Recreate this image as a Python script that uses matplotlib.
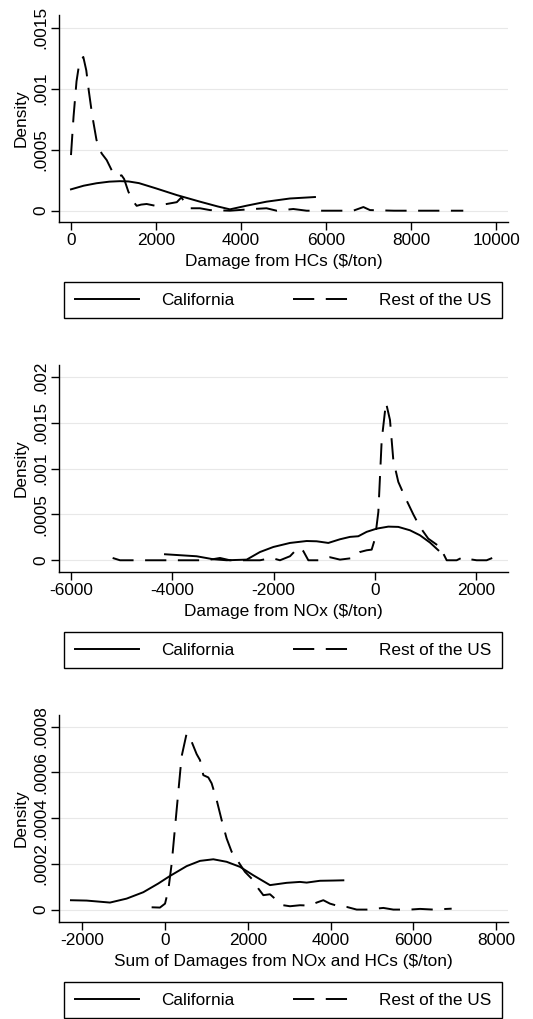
import matplotlib
matplotlib.use('Agg')
import matplotlib.pyplot as plt

# ---- data (x in $/ton, y = density) ----
hc_x_labels = ['0', '2000', '4000', '6000', '8000', '10000']
hc_xticks = [0, 2000, 4000, 6000, 8000, 10000]
hc_yticks = [0, 0.0005, 0.001, 0.0015]
hc_ylabels = ['0', '.0005', '.001', '.0015']
hc_ca_x = [0, 300, 600, 900, 1150, 1350, 1600, 2000, 2490, 3035, 3450, 3740,
           4130, 4600, 5150, 5740]
hc_ca_y = [0.000175, 0.000205, 0.000225, 0.000238, 0.000242, 0.000240, 0.000226,
           0.000183, 0.000128, 0.000074, 0.000035, 0.000011,
           0.000041, 0.000074, 0.000100, 0.000112]
hc_us_x = [0, 60, 130, 200, 290, 360, 420, 500, 600, 720, 840, 960, 1080,
           1190, 1250, 1350, 1470, 1545, 1650, 1780, 1990, 2250, 2490, 2600,
           2700, 2800, 3035, 3270, 3740, 4290, 4600, 4840, 5230, 5545, 6170,
           6640, 6880, 7035, 7600, 8400, 9230]
hc_us_y = [0.000456, 0.00077, 0.00106, 0.00122, 0.00126, 0.00115, 0.00098,
           0.00078, 0.00058, 0.00047, 0.000415, 0.00033, 0.00028,
           0.00029, 0.00026, 0.000156, 0.000074, 0.00004, 0.00005, 0.000055,
           0.00004, 0.000055, 0.00007, 0.00011, 0.00005, 0.00002, 0.00002,
           0.000005, 0.0, 0.000014, 0.00002, 0.0, 0.000014, 0.0, 0.0,
           0.0, 0.00003, 0.000005, 0.0, 0.0, 0.0]

nox_xticks = [-6000, -4000, -2000, 0, 2000]
nox_x_labels = ['-6000', '-4000', '-2000', '0', '2000']
nox_yticks = [0, 0.0005, 0.001, 0.0015, 0.002]
nox_ylabels = ['0', '.0005', '.001', '.0015', '.002']
nox_ca_x = [-4143, -3518, -3189, -2925, -2530, -2267, -2003, -1674, -1345,
            -1148, -917, -687, -489, -325, -160, 37, 268, 465, 696, 892,
            1091, 1256]
nox_ca_y = [0.0000655, 0.0000436, 0.000011, 0.0, 0.000007, 0.00009, 0.000145,
            0.000189, 0.00021, 0.000207, 0.000189, 0.000229, 0.000255,
            0.000262, 0.00031, 0.000345, 0.000367, 0.000364, 0.000327,
            0.000273, 0.000193, 0.000109]
nox_us_x = [-5177, -5032, -4500, -4000, -3320, -3057, -2860, -2500, -2267,
            -2036, -1872, -1674, -1510, -1411, -1312, -1082, -884, -687, -423,
            -292, -160, -61, 5, 71, 137, 222, 301, 367, 465, 597, 762, 892,
            1057, 1222, 1289, 1421, 1618, 1750, 1881, 2013, 2210, 2407]
nox_us_y = [0.000025, 0.0, 0.0, 0.0, 0.0, 0.000025, 0.0, 0.0, 0.0,
            0.000025, 0.0, 0.000044, 0.000138, 0.0001, 0.0, 0.0, 0.000033,
            0.000007, 0.000025, 0.00009, 0.000109, 0.000116, 0.000236,
            0.000527, 0.00131, 0.00172, 0.00153, 0.00109, 0.000855, 0.00069,
            0.0005, 0.000364, 0.000236, 0.000171, 0.000145, 0.0, 0.0,
            0.000036, 0.000011, 0.0, 0.0, 0.000044]

sum_xticks = [-2000, 0, 2000, 4000, 6000, 8000]
sum_x_labels = ['-2000', '0', '2000', '4000', '6000', '8000']
sum_yticks = [0, 0.0002, 0.0004, 0.0006, 0.0008]
sum_ylabels = ['0', '.0002', '.0004', '.0006', '.0008']
sum_ca_x = [-2274, -1895, -1331, -928, -525, -163, 119, 522, 845, 1167, 1489,
            1811, 2134, 2537, 2940, 3262, 3423, 3745, 4068, 4310]
sum_ca_y = [0.0000409, 0.0000394, 0.0000307, 0.000048, 0.000076, 0.000114,
            0.000147, 0.00019, 0.000213, 0.00022, 0.000209, 0.000187,
            0.00015, 0.000107, 0.000117, 0.000121, 0.000118, 0.000126,
            0.000127, 0.000128]
sum_us_x = [-324, -123, 0, 79, 160, 280, 401, 522, 643, 764, 845, 925, 1046,
            1127, 1248, 1369, 1489, 1610, 1771, 1932, 2134, 2255, 2376, 2537,
            2698, 2859, 3020, 3262, 3504, 3665, 3826, 3987, 4148, 4390, 4632,
            4874, 5277, 5519, 5922, 6164, 6485, 6928]
sum_us_y = [0.00001, 0.0000088, 0.000026, 0.000085, 0.0002, 0.000435, 0.00067,
            0.00077, 0.000734, 0.00068, 0.000654, 0.000588, 0.000578,
            0.000552, 0.000479, 0.000391, 0.000311, 0.000253, 0.000209,
            0.000165, 0.000128, 0.000092, 0.000063, 0.000067, 0.000041,
            0.000019, 0.0000146, 0.000019, 0.0000175, 0.0000307, 0.000041,
            0.000026, 0.0000175, 0.0000117, 0.0, 0.0, 0.0000073, 0.0, 0.0,
            0.000003, 0.0, 0.000004]

plt.rcParams['font.family'] = ['Liberation Sans', 'DejaVu Sans']
plt.rcParams['font.size'] = 12.4
plt.rcParams['lines.scale_dashes'] = False

W, H = 533, 1019
fig = plt.figure(figsize=(W / 100, H / 100), dpi=100)


def px_axes(left, top, right, bottom):
    return fig.add_axes([left / W, 1 - bottom / H, (right - left) / W, (bottom - top) / H])


def panel(ax, xlim, ylim, xticks, xlabels, yticks, ylabels, xlabel,
          ca_x, ca_y, us_x, us_y):
    ax.plot(ca_x, ca_y, color='black', lw=1.4, label='California')
    ax.plot(us_x, us_y, color='black', lw=1.4, dashes=(15.3, 8.3),
            label='Rest of the US')
    ax.set_xlim(xlim)
    ax.set_ylim(ylim)
    ax.set_xticks(xticks)
    ax.set_xticklabels(xlabels)
    ax.set_yticks(yticks)
    ax.set_yticklabels(ylabels, rotation=90, va='center')
    ax.grid(axis='y', color='#e8e8e8', lw=0.8)
    ax.set_axisbelow(True)
    for s in ['top', 'right']:
        ax.spines[s].set_visible(False)
    for s in ['left', 'bottom']:
        ax.spines[s].set_linewidth(1.0)
    ax.tick_params(direction='out', length=6, width=1.0, pad=2)
    ax.set_xlabel(xlabel)
    ax.xaxis.set_label_coords(0.5, -0.155)
    ax.set_ylabel('Density')
    ax.yaxis.set_label_coords(-0.067, 0.5)
    hgt = ax.get_position().height * H
    leg = ax.legend(loc='upper left', ncol=2, mode='expand', borderaxespad=0,
                    bbox_to_anchor=(5 / 449, -62 / hgt, 438 / 449, 0.01),
                    frameon=True, fancybox=False, edgecolor='black',
                    handlelength=3.72, handletextpad=1.28, borderpad=0.62,
                    framealpha=1)
    leg.get_frame().set_linewidth(1.0)


ax1 = px_axes(59, 15, 508, 222)
panel(ax1, (-282, 10282), (-0.0000926, 0.001604), hc_xticks, hc_x_labels,
      hc_yticks, hc_ylabels, 'Damage from HCs ($/ton)',
      hc_ca_x, hc_ca_y, hc_us_x, hc_us_y)

ax2 = px_axes(59, 365, 508, 572)
panel(ax2, (-6237, 2632), (-0.000128, 0.00213), nox_xticks, nox_x_labels,
      nox_yticks, nox_ylabels, 'Damage from NOx ($/ton)',
      nox_ca_x, nox_ca_y, nox_us_x, nox_us_y)

ax3 = px_axes(59, 715, 508, 922)
panel(ax3, (-2563, 8290), (-0.0000543, 0.000851), sum_xticks, sum_x_labels,
      sum_yticks, sum_ylabels, 'Sum of Damages from NOx and HCs ($/ton)',
      sum_ca_x, sum_ca_y, sum_us_x, sum_us_y)

fig.savefig('out.png', dpi=100)
